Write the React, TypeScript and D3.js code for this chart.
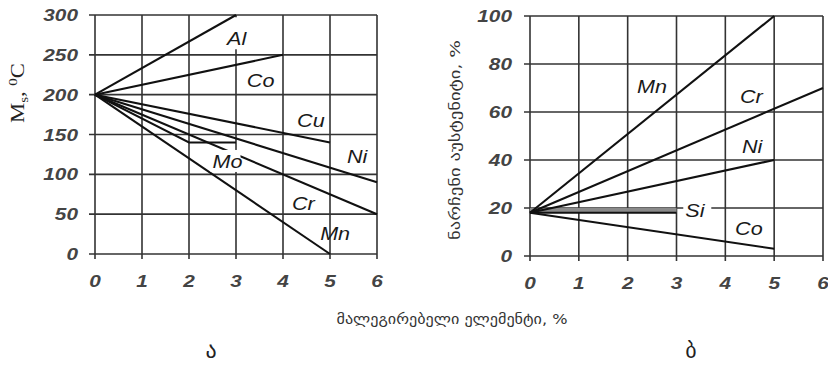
import React from 'react';
import * as d3 from 'd3';

type Pt = [number, number];

// x axis: alloying element, %
const xTicks = [0, 1, 2, 3, 4, 5, 6];

// left panel: Ms temperature, °C
const msTicks = [0, 50, 100, 150, 200, 250, 300];
const msAl: Pt[] = [[0, 200], [3, 300]];
const msCo: Pt[] = [[0, 200], [4, 250]];
const msCu: Pt[] = [[0, 200], [5, 140]];
const msNi: Pt[] = [[0, 200], [6, 90]];
const msMo: Pt[] = [[0, 200], [2, 140], [3, 140]];
const msCr: Pt[] = [[0, 200], [6, 50]];
const msMn: Pt[] = [[0, 200], [5, 0]];

// right panel: retained austenite, %
const raTicks = [0, 20, 40, 60, 80, 100];
const raMn: Pt[] = [[0, 18], [5, 100]];
const raCr: Pt[] = [[0, 18], [6, 70]];
const raNi: Pt[] = [[0, 18], [5, 40]];
const raSi: Pt[] = [[0, 18], [3, 18]];
const raSiUpper = [20, 20];
const raCo: Pt[] = [[0, 18], [5, 3]];

type Label = { text: string; at: Pt; under?: boolean; knock?: boolean; padTop?: number };

const leftLabels: Label[] = [
  { text: 'Al', at: [2.81, 262], under: true, padTop: 12 },
  { text: 'Co', at: [3.23, 209] },
  { text: 'Cu', at: [4.3, 159] },
  { text: 'Ni', at: [5.36, 114] },
  { text: 'Mo', at: [2.5, 108], knock: true },
  { text: 'Cr', at: [4.19, 55] },
  { text: 'Mn', at: [4.79, 17.6] },
];

const rightLabels: Label[] = [
  { text: 'Mn', at: [2.19, 67.9] },
  { text: 'Cr', at: [4.3, 63.8] },
  { text: 'Ni', at: [4.34, 42.9] },
  { text: 'Si', at: [3.18, 16.3], under: true },
  { text: 'Co', at: [4.2, 8.75] },
];

const GRID = '#333';
const NUM_FONT = '"Liberation Sans", Arial, sans-serif';
const GEO_FONT = '"DejaVu Sans", sans-serif';

interface PanelProps {
  x0: number;
  x1: number;
  y0: number;
  y1: number;
  yMax: number;
  yTicks: number[];
  series: Pt[][];
  labels: Label[];
  band?: { pts: Pt[]; upper: number[] };
  labelGap: number;
}

const Panel: React.FC<PanelProps> = ({ x0, x1, y0, y1, yMax, yTicks, series, labels, band, labelGap }) => {
  const x = d3.scaleLinear().domain([0, 6]).range([x0, x1]);
  const y = d3.scaleLinear().domain([0, yMax]).range([y0, y1]);
  const line = d3.line<Pt>().x(d => x(d[0])).y(d => y(d[1]));
  const area = d3.area<Pt>()
    .x(d => x(d[0]))
    .y0(d => y(d[1]))
    .y1((_, i) => y(band ? band.upper[i] : 0));

  const labelBox = (l: Label) => {
    const w = l.text.length * 12 + 4;
    const pad = l.padTop ?? 0;
    return { x: x(l.at[0]) - 2, y: y(l.at[1]) - 16 - pad, w, h: 20 + pad };
  };

  return (
    <g>
      {/* grid */}
      {xTicks.map(t => (
        <line key={`gx${t}`} x1={x(t)} x2={x(t)} y1={y(0)} y2={y(yMax)} stroke={GRID} strokeWidth={1.6} />
      ))}
      {yTicks.map(t => (
        <line key={`gy${t}`} x1={x(0) - 6} x2={x(6)} y1={y(t)} y2={y(t)} stroke={GRID} strokeWidth={1.6} />
      ))}
      {xTicks.map(t => (
        <line key={`tx${t}`} x1={x(t)} x2={x(t)} y1={y(0)} y2={y(0) + 5} stroke={GRID} strokeWidth={1.6} />
      ))}

      {/* label backgrounds that only knock out the grid */}
      {labels.filter(l => l.under).map(l => {
        const b = labelBox(l);
        return <rect key={`ub${l.text}`} x={b.x} y={b.y} width={b.w} height={b.h} fill="#fff" />;
      })}

      {band && <path d={area(band.pts) ?? ''} fill="#8a8a8a" />}

      {series.map((s, i) => (
        <path key={`s${i}`} d={line(s) ?? ''} fill="none" stroke="#111" strokeWidth={2.1} />
      ))}

      {labels.filter(l => l.knock).map(l => {
        const b = labelBox(l);
        return <rect key={`kb${l.text}`} x={b.x} y={b.y - 2} width={b.w + 2} height={b.h + 2} fill="#fff" />;
      })}

      {labels.map(l => (
        <text
          key={`l${l.text}`}
          transform={`translate(${x(l.at[0])},${y(l.at[1])}) scale(1.2,1)`}
          fontFamily={NUM_FONT}
          fontStyle="italic"
          fontSize={18}
          fill="#1a1a1a"
        >
          {l.text}
        </text>
      ))}

      {/* tick labels */}
      {xTicks.map(t => (
        <text
          key={`xl${t}`}
          transform={`translate(${x(t)},${y(0) + 33}) scale(1.3,1)`}
          textAnchor="middle"
          fontFamily={NUM_FONT}
          fontStyle="italic"
          fontWeight="bold"
          fontSize={16}
          fill="#444"
        >
          {t}
        </text>
      ))}
      {yTicks.map(t => (
        <text
          key={`yl${t}`}
          transform={`translate(${x(0) - labelGap},${y(t) + 6}) scale(1.3,1)`}
          textAnchor="end"
          fontFamily={NUM_FONT}
          fontStyle="italic"
          fontWeight="bold"
          fontSize={16}
          fill="#444"
        >
          {t}
        </text>
      ))}
    </g>
  );
};

export default function App() {
  return (
    <svg
      width={828}
      height={366}
      viewBox="0 0 828 366"
      style={{ position: 'absolute', left: 0, top: 0, background: '#fff' }}
    >
      <Panel
        x0={95}
        x1={377}
        y0={254}
        y1={15}
        yMax={300}
        yTicks={msTicks}
        series={[msAl, msCo, msCu, msNi, msMo, msCr, msMn]}
        labels={leftLabels}
        labelGap={17}
      />
      <Panel
        x0={530}
        x1={823}
        y0={256}
        y1={16}
        yMax={100}
        yTicks={raTicks}
        series={[raMn, raCr, raNi, raSi, raCo]}
        labels={rightLabels}
        band={{ pts: raSi, upper: raSiUpper }}
        labelGap={18}
      />

      {/* left y label */}
      <text
        transform="translate(24,123) rotate(-90)"
        fontFamily='"Liberation Serif", "Times New Roman", serif'
        fontSize={18}
        fill="#222"
        textLength={60}
        lengthAdjust="spacingAndGlyphs"
      >
        M<tspan fontSize={12} dy={4}>s</tspan>
        <tspan dy={-4}>, </tspan>
        <tspan fontSize={12} dy={-7}>0</tspan>
        <tspan dy={7}>C</tspan>
      </text>

      {/* right y label */}
      <text
        transform="translate(460,140) rotate(-90)"
        textAnchor="middle"
        fontFamily={GEO_FONT}
        fontSize={14}
        fill="#333"
        textLength={200}
        lengthAdjust="spacingAndGlyphs"
      >
        ნარჩენი აუსტენიტი, %
      </text>

      {/* shared x label */}
      <text
        x={452}
        y={324}
        textAnchor="middle"
        fontFamily={GEO_FONT}
        fontSize={14}
        fill="#333"
        textLength={231}
        lengthAdjust="spacingAndGlyphs"
      >
        მალეგირებელი ელემენტი, %
      </text>

      <text x={211} y={358} textAnchor="middle" fontFamily={GEO_FONT} fontSize={22} fill="#222">ა</text>
      <text x={691} y={358} textAnchor="middle" fontFamily={GEO_FONT} fontSize={22} fill="#222">ბ</text>
    </svg>
  );
}
